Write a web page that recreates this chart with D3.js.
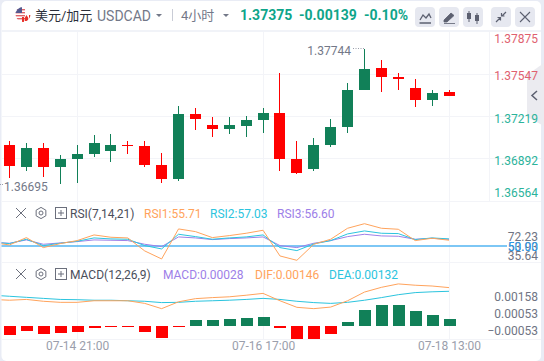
<!DOCTYPE html>
<html>
<head>
<meta charset="utf-8">
<script src="https://cdn.jsdelivr.net/npm/d3@7"></script>
<style>
html, body { margin: 0; padding: 0; background: #fff; overflow: hidden; }
svg { display: block; }
text { font-family: Roboto, "Noto Sans CJK SC", sans-serif; }
</style>
</head>
<body>
<script>
const width = 544;
const height = 361;

// candles
const opens = [1.37002, 1.36831, 1.36979, 1.36824, 1.36893, 1.36932, 1.36948, 1.37002, 1.36994, 1.36847, 1.36738, 1.37242, 1.37157, 1.37126, 1.37149, 1.37196, 1.37250, 1.36893, 1.36816, 1.37002, 1.37141, 1.37428, 1.37599, 1.37529, 1.37444, 1.37351, 1.37413];
const highs = [1.37033, 1.37017, 1.37017, 1.36924, 1.37002, 1.37079, 1.37087, 1.37033, 1.37033, 1.36940, 1.37304, 1.37289, 1.37219, 1.37219, 1.37227, 1.37289, 1.37560, 1.37033, 1.37056, 1.37203, 1.37483, 1.37744, 1.37661, 1.37560, 1.37514, 1.37428, 1.37428];
const lows = [1.36746, 1.36793, 1.36754, 1.36695, 1.36707, 1.36909, 1.36870, 1.36932, 1.36831, 1.36707, 1.36723, 1.37118, 1.37064, 1.37087, 1.37064, 1.37095, 1.36800, 1.36777, 1.36793, 1.36986, 1.37095, 1.37428, 1.37413, 1.37428, 1.37297, 1.37304, 1.37375];
const closes = [1.36834, 1.36979, 1.36824, 1.36893, 1.36932, 1.37017, 1.37002, 1.36994, 1.36847, 1.36738, 1.37242, 1.37203, 1.37126, 1.37157, 1.37196, 1.37250, 1.36893, 1.36785, 1.37002, 1.37141, 1.37428, 1.37591, 1.37529, 1.37514, 1.37351, 1.37405, 1.37375];

// indicator lines carry one extra leading point, the candle just off the left edge
const rsi1 = [53.3, 51.0, 58.33, 48.33, 52.33, 55.33, 61.0, 58.67, 58.0, 45.0, 37.0, 67.0, 64.33, 58.33, 60.33, 62.67, 65.67, 40.0, 35.64, 51.67, 56.67, 67.67, 72.23, 67.67, 66.67, 55.33, 57.67, 55.71];
const rsi2 = [53.7, 52.33, 56.67, 50.33, 52.67, 54.67, 58.0, 57.0, 56.67, 50.33, 47.0, 61.67, 59.33, 56.67, 58.0, 59.0, 61.0, 48.33, 45.33, 52.0, 55.33, 62.0, 65.0, 62.67, 62.33, 56.33, 58.0, 57.03];
const rsi3 = [53.7, 52.67, 56.0, 51.67, 53.0, 54.33, 56.0, 55.67, 55.33, 51.67, 49.33, 59.0, 58.0, 56.33, 57.33, 58.0, 59.0, 50.33, 48.33, 52.67, 55.33, 59.33, 61.67, 60.0, 59.67, 56.67, 57.67, 56.6];
const dif = [0.00101, 0.00098, 0.00101, 0.00094, 0.0009, 0.0009, 0.00096, 0.00096, 0.00096, 0.00086, 0.00066, 0.00092, 0.00104, 0.00108, 0.00111, 0.00117, 0.00124, 0.00096, 0.00071, 0.00066, 0.00072, 0.00096, 0.00129, 0.00147, 0.0016, 0.00155, 0.00152, 0.00146];
const dea = [0.00117, 0.00113, 0.00109, 0.00105, 0.00101, 0.001, 0.00098, 0.00098, 0.00096, 0.00094, 0.00089, 0.0009, 0.00094, 0.00096, 0.00098, 0.00101, 0.00105, 0.00101, 0.00094, 0.00089, 0.00086, 0.0009, 0.00098, 0.00108, 0.00119, 0.00127, 0.0013, 0.00132];
const macdBars = [-0.00034, -0.00019, -0.0003, -0.00027, -0.00023, -0.00008, -0.00003, -0.00003, -0.00023, -0.00046, -0.00003, 0.00023, 0.00023, 0.00027, 0.0003, 0.00034, -0.00008, -0.00049, -0.00049, -0.0003, 0.00015, 0.00061, 0.0008, 0.0008, 0.00057, 0.00042, 0.00028];

const priceTicks = [1.37875, 1.37547, 1.37219, 1.36892, 1.36564];
const timeTicks = [4, 15, 26];
const timeLabels = ["07-14 21:00", "07-16 17:00", "07-18 13:00"];
const macdTicks = [0.00158, 0.00053, -0.00053];

const RED = "#ff0000", GREEN = "#118058";
const ORANGE = "#ffa35c", CYAN = "#2bc4de", PURPLE = "#9d80e8";
const GRID = "#f3f4f8", GREY = "#737888";

const x = d3.scaleLinear().domain([0, 26]).range([9.5, 449]);
const yPrice = d3.scaleLinear().domain([1.36564, 1.37875]).range([201, 32]);
const yRsi = d3.scaleLinear().domain([35.64, 72.23]).range([260.3, 223.7]);
const yMacd = d3.scaleLinear().domain([0, 0.00146]).range([326, 287.6]);
// the macd axis labels sit squeezed together, not on the data scale
const yMacdLabel = d3.scaleLinear().domain([-0.00053, 0.00158]).range([330.5, 296.5]);

const svg = d3.select("body").append("svg")
    .attr("width", width)
    .attr("height", height);

svg.append("rect").attr("width", width).attr("height", height).attr("fill", "#e9ecf5");
svg.append("rect").attr("x", 1.5).attr("y", 1).attr("width", 539.5).attr("height", 360).attr("rx", 5).attr("fill", "#fff");
svg.append("rect").attr("x", 1.5).attr("y", 30).attr("width", 539.5).attr("height", 2).attr("fill", "#f1f3f8");

// grid
const grid = svg.append("g").attr("stroke", GRID).attr("stroke-width", 1).attr("shape-rendering", "crispEdges");
[74, 116, 158.7, 201, 262, 339].forEach(y => {
    grid.append("line").attr("x1", 1.5).attr("x2", 541).attr("y1", y).attr("y2", y);
});
timeTicks.forEach(i => {
    grid.append("line").attr("x1", x(i)).attr("x2", x(i)).attr("y1", 32).attr("y2", 339);
});
grid.append("line").attr("x1", 489).attr("x2", 489).attr("y1", 32).attr("y2", 201);

// collapse tab on the right, under the price labels
const icon = "#5c6070";
svg.append("path").attr("d", "M527 75 L544 63 V126 L527 117 Z").attr("fill", "#ebebf0");
svg.append("path").attr("d", "M537 91 L532 95.5 L537 100").attr("fill", "none").attr("stroke", icon).attr("stroke-width", 1.5);

// candles
const candles = svg.selectAll(".candle")
    .data(opens.map((o, i) => ({ i, o, h: highs[i], l: lows[i], c: closes[i] })))
    .enter().append("g")
    .attr("class", "candle")
    .attr("fill", d => d.c < d.o ? RED : GREEN)
    .attr("shape-rendering", "crispEdges");
candles.append("rect")
    .attr("x", d => Math.round(x(d.i) - 0.5))
    .attr("width", 1)
    .attr("y", d => yPrice(d.h))
    .attr("height", d => yPrice(d.l) - yPrice(d.h));
candles.append("rect")
    .attr("x", d => Math.round(x(d.i) - 5.5))
    .attr("width", 11)
    .attr("y", d => yPrice(Math.max(d.o, d.c)))
    .attr("height", d => Math.max(1, Math.abs(yPrice(d.o) - yPrice(d.c))));

// high / low notes
svg.append("text").attr("x", 351).attr("y", 55).attr("text-anchor", "end").attr("font-size", 12).attr("fill", GREY).text("1.37744");
svg.append("text").attr("x", 4).attr("y", 191).attr("font-size", 12).attr("fill", GREY).text("1.36695");
svg.append("line").attr("x1", 353).attr("x2", 364).attr("y1", 48.5).attr("y2", 48.5).attr("stroke", "#9a9eab").attr("stroke-dasharray", "1 1.5");
svg.append("line").attr("x1", 0).attr("x2", 3).attr("y1", 184.5).attr("y2", 184.5).attr("stroke", "#9a9eab").attr("stroke-dasharray", "1 1");

// price axis
const priceAxis = svg.append("g")
    .attr("transform", "translate(538,0)")
    .call(d3.axisLeft(yPrice).tickValues(priceTicks).tickSize(0).tickPadding(0).tickFormat(d3.format(".5f")));
priceAxis.select(".domain").remove();
priceAxis.selectAll("text")
    .attr("font-size", 12)
    .attr("font-family", "Roboto")
    .attr("fill", d => d > 1.3738 ? "#e0616f" : "#2bb39b")
    .attr("dy", d => d === 1.37875 ? "0.9em" : d === 1.36564 ? "-0.38em" : "0.46em");

// rsi pane
const rsiLine = d3.line().x((d, i) => x(i - 1)).y(d => yRsi(d));
svg.append("clipPath").attr("id", "plot").append("rect")
    .attr("x", 1.5).attr("y", 32).attr("width", 510).attr("height", 307);
svg.append("line")
    .attr("x1", 1.5).attr("x2", 507)
    .attr("y1", yRsi(50)).attr("y2", yRsi(50))
    .attr("stroke", "#52b4f2").attr("stroke-width", 1.5);
[[rsi3, PURPLE], [rsi2, CYAN], [rsi1, ORANGE]].forEach(([values, color]) => {
    svg.append("path")
        .attr("clip-path", "url(#plot)")
        .attr("d", rsiLine(values))
        .attr("fill", "none")
        .attr("stroke", color)
        .attr("stroke-width", 1);
});

const rsiAxis = svg.append("g")
    .attr("transform", "translate(538,0)")
    .call(d3.axisLeft(yRsi).tickValues([72.23, 53.93, 35.64, 50]).tickSize(0).tickPadding(0).tickFormat(d3.format(".2f")));
rsiAxis.select(".domain").remove();
rsiAxis.selectAll("text")
    .attr("font-size", 12)
    .attr("font-family", "Roboto")
    .attr("fill", d => d === 50 ? "#2d9bea" : "#6f7483")
    .attr("dy", d => d === 72.23 ? "1.36em" : d === 35.64 ? "-0.1em" : d === 53.93 ? "0.67em" : "0.36em");

// macd pane
svg.selectAll(".hist")
    .data(macdBars)
    .enter().append("rect")
    .attr("class", "hist")
    .attr("shape-rendering", "crispEdges")
    .attr("x", (d, i) => Math.round(x(i) - 5.5))
    .attr("width", 12)
    .attr("y", d => yMacd(Math.max(d, 0)))
    .attr("height", d => Math.abs(yMacd(d) - yMacd(0)))
    .attr("fill", d => d < 0 ? RED : GREEN);

const macdLine = d3.line().x((d, i) => x(i - 1)).y(d => yMacd(d));
[[dea, CYAN], [dif, ORANGE]].forEach(([values, color]) => {
    svg.append("path")
        .attr("clip-path", "url(#plot)")
        .attr("d", macdLine(values))
        .attr("fill", "none")
        .attr("stroke", color)
        .attr("stroke-width", 1);
});

const macdAxis = svg.append("g")
    .attr("transform", "translate(538,0)")
    .call(d3.axisLeft(yMacdLabel).tickValues(macdTicks).tickSize(0).tickPadding(0).tickFormat(d3.format(".5f")));
macdAxis.select(".domain").remove();
macdAxis.selectAll("text").attr("font-size", 12).attr("font-family", "Roboto").attr("fill", "#6f7483");

// time axis
const timeAxis = svg.append("g")
    .attr("transform", "translate(0,338)")
    .call(d3.axisBottom(x).tickValues(timeTicks).tickSize(0).tickPadding(3).tickFormat((d, i) => timeLabels[i]));
timeAxis.select(".domain").remove();
timeAxis.selectAll("text").attr("font-size", 12).attr("font-family", "Roboto").attr("fill", "#9a9eab");

// header
function label(px, py, str, color, size, weight) {
    return svg.append("text").attr("x", px).attr("y", py).attr("font-size", size || 12)
        .attr("font-weight", weight || 400).attr("fill", color).text(str);
}
const flag = svg.append("g");
flag.append("clipPath").attr("id", "flagClip").append("circle").attr("cx", 23).attr("cy", 14.5).attr("r", 7.5);
const flagG = flag.append("g").attr("clip-path", "url(#flagClip)");
flagG.append("rect").attr("x", 15).attr("y", 7).attr("width", 16).attr("height", 15).attr("fill", "#fff");
[9, 12, 15, 18].forEach(y => {
    flagG.append("rect").attr("x", 15).attr("y", y).attr("width", 10).attr("height", 1.4).attr("fill", "#e0656a");
});
flagG.append("rect").attr("x", 15).attr("y", 7).attr("width", 7).attr("height", 6).attr("fill", "#54598f");
flagG.append("path").attr("d", "M22 22 L31 13 V22 Z").attr("fill", "#fff");
flagG.append("path").attr("d", "M22 17 h2 v5 h-2 Z M29 15 h2 v7 h-2 Z M26.5 15 l1.8 3 v3 h-3.6 v-3 Z").attr("fill", "#e8302a");

label(35, 20, "美元/加元", "#2b2f3a", 13);
label(97, 21, "USDCAD", GREY, 14);
svg.append("path").attr("d", "M156 14 h6 l-3 3 Z").attr("fill", GREY);
svg.append("rect").attr("x", 172).attr("y", 9).attr("width", 1).attr("height", 12).attr("fill", "#c9ccd6");
label(181, 20, "4小时", GREY, 13);
svg.append("path").attr("d", "M223 14 h6 l-3 3 Z").attr("fill", GREY);
label(240, 20, "1.37375", "#0ea58a", 14, 700);
label(299, 20, "-0.00139", "#0ea58a", 14, 700);
label(364, 20, "-0.10%", "#0ea58a", 14, 700);

// toolbar buttons
const buttonX = [415, 439, 463, 491, 515];
svg.selectAll(".btn").data(buttonX).enter().append("rect")
    .attr("class", "btn")
    .attr("x", d => d).attr("y", 7).attr("width", 20).attr("height", 20).attr("rx", 4)
    .attr("fill", "#e6e8f0");
svg.append("path").attr("d", "M420 20 L423 15 L426 18 L429 14 L431 18 M419.5 23 H431").attr("fill", "none").attr("stroke", icon).attr("stroke-width", 1.3);
svg.append("path").attr("d", "M444 20 L451 13 L454 15.5 L447 22 H444 Z M444 23.5 H455").attr("fill", icon).attr("stroke", icon).attr("stroke-width", 0.8);
svg.append("path").attr("d", "M469 11 V22 M477 13 V24").attr("stroke", icon).attr("stroke-width", 1);
svg.append("rect").attr("x", 467).attr("y", 13).attr("width", 4).attr("height", 6).attr("fill", icon);
svg.append("rect").attr("x", 475).attr("y", 15).attr("width", 4).attr("height", 6).attr("fill", icon);
svg.append("path").attr("d", "M496 22 L500 18 M497.5 17.5 H500.5 V20.5 M506 12 L502 16 M501.5 13 V16 H504.5").attr("fill", "none").attr("stroke", icon).attr("stroke-width", 1.2);
svg.append("path").attr("d", "M520 12 L530 22 M530 12 L520 22").attr("stroke", icon).attr("stroke-width", 1.1);

// pane legends
function paneControls(cy) {
    svg.append("path").attr("d", `M16 ${cy - 5} L26 ${cy + 5} M26 ${cy - 5} L16 ${cy + 5}`).attr("stroke", "#6b6f7c").attr("stroke-width", 1);
    const hex = d3.range(6).map(k => {
        const a = Math.PI / 3 * k + Math.PI / 6;
        return [41 + 5.6 * Math.cos(a), cy + 5.6 * Math.sin(a)];
    });
    svg.append("path").attr("d", "M" + hex.join("L") + "Z").attr("fill", "none").attr("stroke", "#6b6f7c");
    svg.append("circle").attr("cx", 41).attr("cy", cy).attr("r", 2).attr("fill", "none").attr("stroke", "#6b6f7c");
    svg.append("rect").attr("x", 55.5).attr("y", cy - 5.5).attr("width", 11).attr("height", 11).attr("fill", "none").attr("stroke", "#6b6f7c");
    svg.append("path").attr("d", `M58 ${cy} H64 M61 ${cy - 3} V${cy + 3}`).attr("stroke", "#6b6f7c");
}
paneControls(213);
label(70, 218, "RSI(7,14,21)", "#4a4e5a");
label(144, 218, "RSI1:55.71", ORANGE);
label(210, 218, "RSI2:57.03", CYAN);
label(277, 218, "RSI3:56.60", PURPLE);
paneControls(274);
label(70, 279, "MACD(12,26,9)", "#4a4e5a");
label(163, 279, "MACD:0.00028", PURPLE);
label(255, 279, "DIF:0.00146", ORANGE);
label(329, 279, "DEA:0.00132", CYAN);
</script>
</body>
</html>
